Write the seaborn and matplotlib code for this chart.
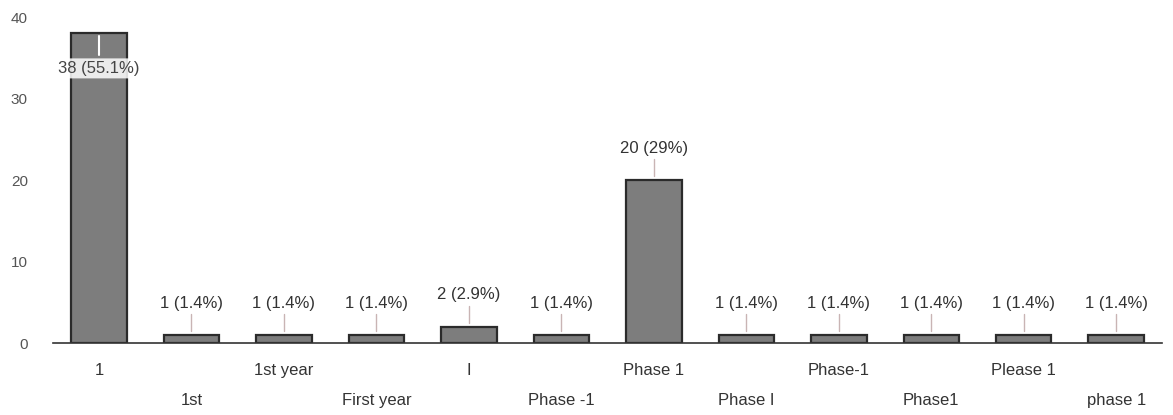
import matplotlib
matplotlib.use("Agg")
import matplotlib.pyplot as plt
import seaborn as sns

categories = ["1", "1st", "1st year", "First year", "I", "Phase -1",
              "Phase 1", "Phase I", "Phase-1", "Phase1", "Please 1", "phase 1"]
counts = [38, 1, 1, 1, 2, 1, 20, 1, 1, 1, 1, 1]

sns.set_style("white")
plt.rcParams["font.family"] = ["Liberation Sans Narrow", "Liberation Sans", "DejaVu Sans"]

fig = plt.figure(figsize=(11.73, 4.15), dpi=100)
ax = fig.add_axes([0.045, 0.173, 0.946, 0.786])

sns.barplot(x=categories, y=counts, color="#7d7d7d", saturation=1, width=0.6,
            edgecolor="#2b2b2b", linewidth=1.6, ax=ax)

total = sum(counts)
for i, c in enumerate(counts):
    pct = f"{round(c / total * 100, 1):g}"
    lab = f"{c} ({pct}%)"
    if c == max(counts):
        # label sits inside the tallest bar
        ax.plot([i, i], [c - 0.3, c - 2.6], color="white", lw=1.5)
        ax.text(i, c - 4.3, lab, ha="center", va="center", fontsize=12, color="#444444",
                bbox=dict(boxstyle="round,pad=0.15", fc="white", ec="none", alpha=0.85))
    else:
        ax.plot([i, i], [c + 0.5, c + 2.6], color="#c9b4b4", lw=1)
        ax.text(i, c + 3.0, lab, ha="center", va="bottom", fontsize=12, color="#333333")

ax.set_xlim(-0.5, 11.5)
ax.set_ylim(0, 40)
ax.set_yticks([0, 10, 20, 30, 40])
ax.tick_params(axis="y", length=0, pad=18, labelsize=11, labelcolor="#555555")
ax.tick_params(axis="x", length=0, labelsize=12, labelcolor="#333333")
for i, t in enumerate(ax.xaxis.get_major_ticks()):
    t.set_pad(14 if i % 2 == 0 else 36)

for s in ["top", "right", "left"]:
    ax.spines[s].set_visible(False)
ax.spines["bottom"].set_color("#333333")
ax.spines["bottom"].set_linewidth(1.2)
ax.set_xlabel("")
ax.set_ylabel("")

fig.savefig("out.png", dpi=100)
